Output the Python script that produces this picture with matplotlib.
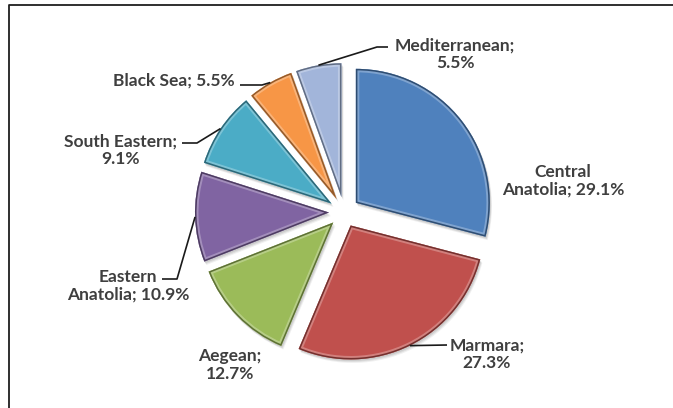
import numpy as np
import matplotlib.pyplot as plt
import matplotlib.colors as mcolors
from matplotlib.patches import PathPatch
from matplotlib.lines import Line2D
from matplotlib.path import Path

# regional shares (%), clockwise from 12 o'clock
regions = ["Central\nAnatolia", "Marmara", "Aegean", "Eastern\nAnatolia",
           "South Eastern", "Black Sea", "Mediterranean"]
shares = [29.1, 27.3, 12.7, 10.9, 9.1, 5.5, 5.5]
# what follows the ";" in each label: same line or a new one
label_breaks = [" ", "\n", "\n", " ", "\n", " ", "\n"]

colors = ["#4f81bd", "#c0504d", "#9bbb59", "#8064a2",
          "#4bacc6", "#f79646", "#a2b5da"]

W, H = 673, 408
CENTER = (344, H - 212)
RADIUS = 134
EXPLODE = 15

# label centres in pixel coords (top-down y)
label_pos = [(563, 181), (487, 354), (230, 365), (128, 286),
             (120, 150), (174, 81), (455, 54)]
# leader line points next to the label, None = no leader
leaders = [None, [(447, 345)], None, [(162, 279), (177, 279)],
           [(182, 143), (197, 143)], [(240, 85), (262, 85)],
           [(388, 47), (377, 47)]]


def up(p):
    return p[0], H - p[1]


fig = plt.figure(figsize=(W / 100, H / 100), dpi=100)
ax = fig.add_axes([0, 0, 1, 1])

wedges, _ = ax.pie(shares, colors=colors, startangle=90, counterclock=False,
                   radius=RADIUS, center=CENTER, explode=[EXPLODE] * len(shares),
                   wedgeprops=dict(linewidth=0), frame=True)
ax.set_xlim(0, W)
ax.set_ylim(0, H)
ax.set_aspect("equal")
ax.axis("off")

for w, c in zip(wedges, colors):
    base = np.array(mcolors.to_rgb(c))
    dark = base * 0.6
    light = base + (1 - base) * 0.5
    path = w.get_path()
    # soft drop shadow
    for k, a in [(3.5, 0.06), (2.5, 0.08), (1.5, 0.08)]:
        sh = PathPatch(path.transformed(plt.matplotlib.transforms.Affine2D().translate(k * 0.6, -k)),
                       facecolor="black", edgecolor="none", alpha=a, zorder=0.5)
        ax.add_patch(sh)
    # bevel: light band then dark rim, kept inside the wedge
    hi = PathPatch(path, facecolor="none", edgecolor=light, lw=5, alpha=0.55, zorder=2)
    ax.add_patch(hi)
    hi.set_clip_path(w)
    rim = PathPatch(path, facecolor="none", edgecolor=dark, lw=2.2, zorder=2.1)
    ax.add_patch(rim)
    rim.set_clip_path(w)

for i, w in enumerate(wedges):
    txt = f"{regions[i]};{label_breaks[i]}{shares[i]}%"
    x, y = up(label_pos[i])
    ax.text(x, y, txt, ha="center", va="center", multialignment="center",
            fontsize=12.5, fontweight="bold", family="Lato", color="#3f3f3f",
            linespacing=1.1, zorder=3)
    if leaders[i] is None:
        continue
    mid = np.deg2rad((w.theta1 + w.theta2) / 2)
    tip = (w.center[0] + w.r * np.cos(mid), w.center[1] + w.r * np.sin(mid))
    pts = [up(p) for p in leaders[i]] + [tip]
    xs, ys = zip(*pts)
    ax.plot(xs, ys, color="#1a1a1a", lw=1.2, zorder=3, solid_capstyle="butt")

# outer frame, open at right and bottom
fx, fy = 9 / W, 1 - 5 / H
fig.add_artist(Line2D([fx, fx, 1.01], [-0.01, fy, fy], color="#1f1f1f", lw=1.3,
                      transform=fig.transFigure))

fig.savefig("out.png", dpi=100, facecolor="white")
